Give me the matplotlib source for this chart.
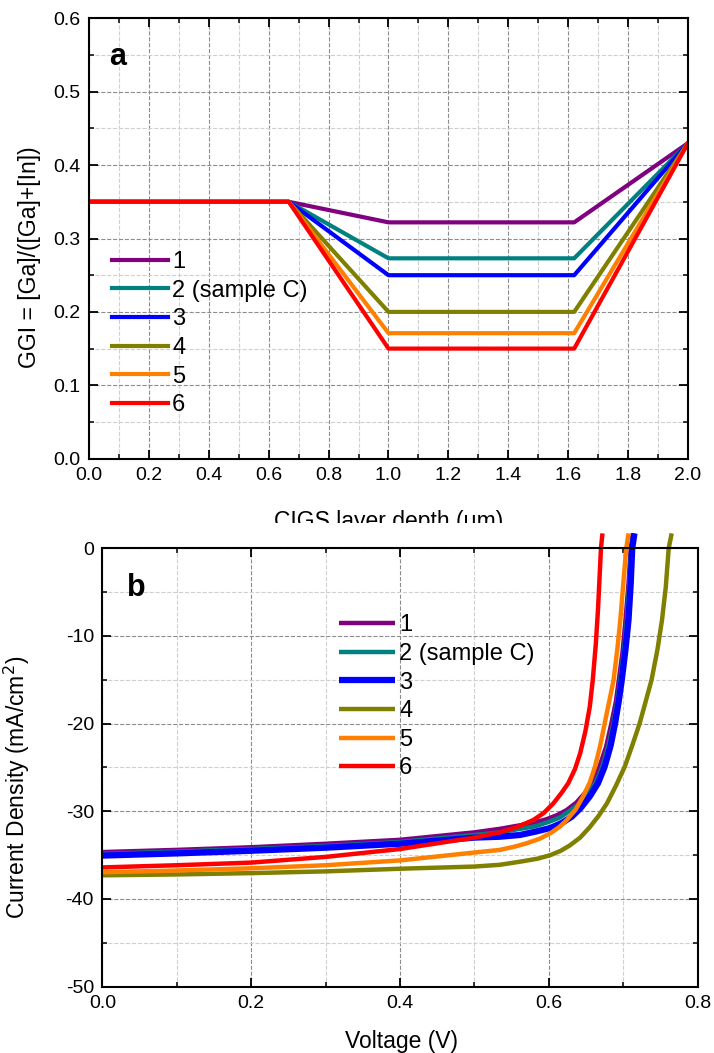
import matplotlib
matplotlib.use('Agg')
import matplotlib.pyplot as plt
from matplotlib.patches import Rectangle
from matplotlib.ticker import MultipleLocator

plt.rcParams['font.family'] = ['Liberation Sans', 'DejaVu Sans']
plt.rcParams['axes.unicode_minus'] = False

labels = ['1', '2 (sample C)', '3', '4', '5', '6']
colors = ['#800080', '#008080', '#0000FF', '#808000', '#FF8000', '#FF0000']

# panel a: GGI depth profiles
depth = [0.0, 0.667, 1.0, 1.62, 2.0]
ggi_front = 0.35
ggi_back = 0.43
ggi_notch = [0.322, 0.273, 0.25, 0.20, 0.171, 0.15]

# panel b: J-V curves (voltage V, current density mA/cm2)
v1 = [0.0, 0.1, 0.2, 0.3, 0.4, 0.5, 0.534, 0.561, 0.58, 0.597, 0.612, 0.624, 0.637, 0.648, 0.659,
      0.668, 0.677, 0.684, 0.690, 0.694, 0.699, 0.703, 0.707, 0.710, 0.713]
j1 = [-34.65, -34.4, -34.1, -33.7, -33.25, -32.4, -32.0, -31.6, -31.3, -30.9, -30.4, -29.85, -29.0, -27.95, -26.6,
      -24.9, -22.6, -19.96, -17.5, -15.0, -11.8, -8.18, -4.0, 0.0, 1.7]
v2 = [0.0, 0.1, 0.2, 0.3, 0.4, 0.5, 0.534, 0.561, 0.582, 0.600, 0.615, 0.627, 0.640, 0.652, 0.663,
      0.672, 0.680, 0.687, 0.692, 0.696, 0.701, 0.705, 0.708, 0.711, 0.714]
j2 = [-34.85, -34.6, -34.3, -33.95, -33.5, -32.7, -32.4, -32.0, -31.7, -31.2, -30.7, -30.0, -29.2, -28.1, -26.7,
      -24.9, -22.5, -19.96, -17.4, -15.0, -11.6, -8.18, -4.0, 0.0, 1.7]
v3 = [0.0, 0.1, 0.2, 0.3, 0.4, 0.5, 0.534, 0.561, 0.583, 0.602, 0.618, 0.631, 0.643, 0.655, 0.666,
      0.675, 0.683, 0.689, 0.694, 0.698, 0.703, 0.707, 0.710, 0.712, 0.715]
j3 = [-35.05, -34.8, -34.5, -34.15, -33.7, -33.0, -32.9, -32.7, -32.3, -31.9, -31.3, -30.6, -29.6, -28.3, -26.8,
      -24.9, -22.5, -19.96, -17.4, -15.0, -11.5, -8.18, -4.0, 0.0, 1.7]
v4 = [0.0, 0.1, 0.2, 0.3, 0.4, 0.5, 0.534, 0.561, 0.585, 0.602, 0.616, 0.628, 0.642, 0.655, 0.667, 0.678,
      0.690, 0.702, 0.712, 0.722, 0.730, 0.738, 0.746, 0.752, 0.757, 0.761, 0.765]
j4 = [-37.3, -37.2, -37.05, -36.85, -36.55, -36.3, -36.1, -35.75, -35.4, -35.0, -34.5, -33.9, -33.0, -31.8, -30.5, -29.1,
      -27.1, -24.9, -22.5, -19.96, -17.5, -15.0, -11.5, -8.18, -4.5, 0.0, 1.7]
v5 = [0.0, 0.1, 0.2, 0.3, 0.4, 0.5, 0.534, 0.553, 0.570, 0.587, 0.602, 0.614, 0.624, 0.636, 0.646, 0.655,
      0.662, 0.669, 0.675, 0.681, 0.687, 0.692, 0.696, 0.700, 0.704, 0.707]
j5 = [-36.95, -36.75, -36.5, -36.15, -35.6, -34.7, -34.4, -34.05, -33.65, -33.15, -32.5, -31.8, -31.0, -29.8, -28.3, -26.7,
      -24.9, -22.5, -19.96, -17.5, -15.0, -11.5, -8.18, -4.0, 0.0, 1.7]
v6 = [0.0, 0.1, 0.2, 0.3, 0.4, 0.5, 0.534, 0.557, 0.579, 0.593, 0.606, 0.617, 0.626, 0.635, 0.642, 0.649,
      0.655, 0.659, 0.663, 0.666, 0.668, 0.670, 0.672]
j6 = [-36.4, -36.15, -35.85, -35.2, -34.3, -33.0, -32.4, -31.8, -31.0, -30.2, -29.1, -27.9, -26.8, -25.2, -23.4, -20.9,
      -18.06, -15.0, -11.0, -7.0, -3.5, 0.0, 1.7]
jv = [(v1, j1), (v2, j2), (v3, j3), (v4, j4), (v5, j5), (v6, j6)]

fig = plt.figure(figsize=(7.14, 10.53), dpi=100)
ax_a = fig.add_axes([0.1246, 0.5644, 0.839, 0.4182])
ax_b = fig.add_axes([0.1433, 0.0630, 0.8339, 0.4163])
ax_a.set_zorder(0)
ax_b.set_zorder(2)
ax_b.patch.set_alpha(0)

# hide lower part of the top x label, like the source figure
fig.patches.append(Rectangle((0, 0.4796), 1, 0.0237, transform=fig.transFigure,
                             facecolor='white', edgecolor='none', zorder=1))


def style(ax):
    for s in ax.spines.values():
        s.set_linewidth(1.5)
    ax.tick_params(which='both', direction='in', top=True, right=True,
                   labelsize=14, pad=6)
    ax.tick_params(which='major', length=6.5, width=1.3)
    ax.tick_params(which='minor', length=3.6, width=1.1)
    ax.grid(which='major', linestyle='--', color='#8c8c8c', linewidth=0.8)
    ax.grid(which='minor', linestyle='--', color='#cfcfcf', linewidth=0.8)
    ax.set_axisbelow(True)


# ---- panel a
for g, c, lab in zip(ggi_notch, colors, labels):
    ax_a.plot(depth, [ggi_front, ggi_front, g, g, ggi_back], color=c, lw=3, label=lab)
ax_a.set_xlim(0, 2.0)
ax_a.set_ylim(0, 0.6)
ax_a.xaxis.set_major_locator(MultipleLocator(0.2))
ax_a.xaxis.set_minor_locator(MultipleLocator(0.1))
ax_a.yaxis.set_major_locator(MultipleLocator(0.1))
ax_a.yaxis.set_minor_locator(MultipleLocator(0.05))
ax_a.xaxis.set_major_formatter('{x:.1f}')
ax_a.yaxis.set_major_formatter('{x:.1f}')
style(ax_a)
ax_a.set_xlabel('CIGS layer depth (\u03bcm)', fontsize=16.5)
ax_a.xaxis.set_label_coords(0.5, -0.1165)
ax_a.set_ylabel('GGI = [Ga]/([Ga]+[In])', fontsize=16.5)
ax_a.yaxis.set_label_coords(-0.080, 0.457)
ax_a.text(0.048, 0.912, 'a', transform=ax_a.transAxes, fontsize=22,
          fontweight='bold', ha='center', va='center')
ax_a.legend(loc='center left', bbox_to_anchor=(0.038, 0.284), frameon=False,
            fontsize=17, borderpad=0, borderaxespad=0, handlelength=2.37,
            handletextpad=0.19, labelspacing=0.28)

# ---- panel b
for (v, j), c, lab in zip(jv, colors, labels):
    lw = 4.5 if c == '#0000FF' else 3.2
    ax_b.plot(v, j, color=c, lw=lw, label=lab, clip_on=False,
              solid_joinstyle='round', solid_capstyle='butt')
ax_b.set_xlim(0, 0.8)
ax_b.set_ylim(-50, 0)
ax_b.xaxis.set_major_locator(MultipleLocator(0.2))
ax_b.xaxis.set_minor_locator(MultipleLocator(0.1))
ax_b.yaxis.set_major_locator(MultipleLocator(10))
ax_b.yaxis.set_minor_locator(MultipleLocator(5))
ax_b.xaxis.set_major_formatter('{x:.1f}')
ax_b.yaxis.set_major_formatter('{x:.0f}')
style(ax_b)
ax_b.set_xlabel('Voltage (V)', fontsize=16.5)
ax_b.xaxis.set_label_coords(0.5025, -0.100)
ax_b.set_ylabel('Current Density (mA/cm$^2$)', fontsize=16.5)
ax_b.yaxis.set_label_coords(-0.118, 0.454)
ax_b.text(0.057, 0.909, 'b', transform=ax_b.transAxes, fontsize=22,
          fontweight='bold', ha='center', va='center')
ax_b.legend(loc='center left', bbox_to_anchor=(0.397, 0.661), frameon=False,
            fontsize=17, borderpad=0, borderaxespad=0, handlelength=2.37,
            handletextpad=0.19, labelspacing=0.28)

fig.savefig('out.png', dpi=100)
